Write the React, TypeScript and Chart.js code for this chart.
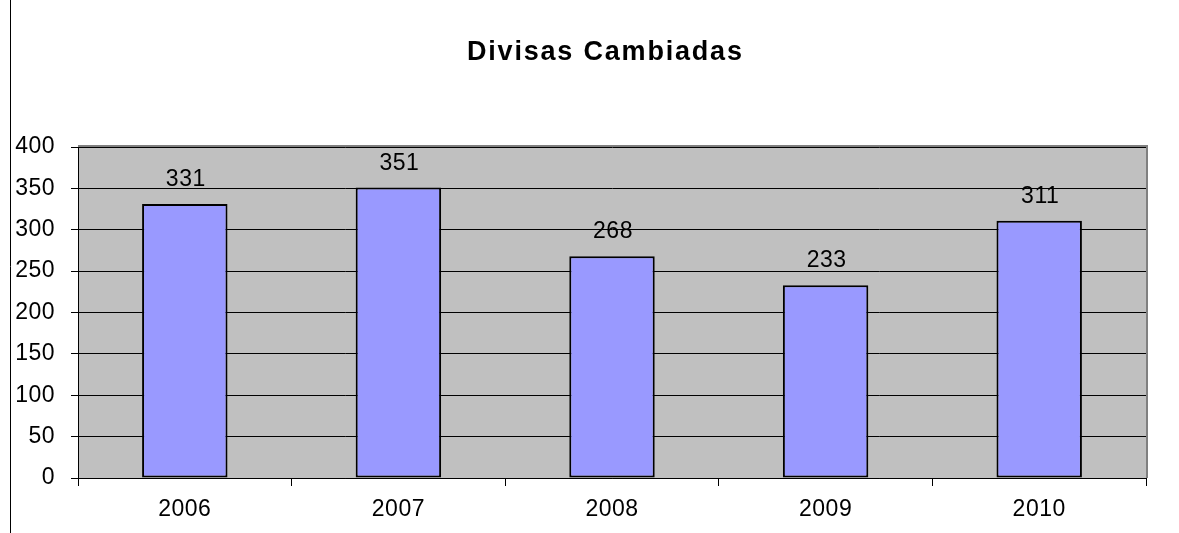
import React, { useEffect, useRef } from "react";
import { Chart, registerables } from "chart.js";

Chart.register(...registerables);

const TITLE = "Divisas Cambiadas";
const CATEGORIES = ["2006", "2007", "2008", "2009", "2010"];
const VALUES = [331, 351, 268, 233, 311];
const Y_MIN = 0;
const Y_MAX = 400;
const Y_STEP = 50;

const FONT = "'Liberation Sans', Arial, sans-serif";

function setSpacing(ctx: any, v: string) {
  try {
    ctx.letterSpacing = v;
  } catch (e) {}
}

const decorPlugin = {
  id: "decor",
  beforeDraw(chart: any) {
    const { ctx, chartArea } = chart;
    ctx.save();
    ctx.fillStyle = "#ffffff";
    ctx.fillRect(0, 0, chart.width, chart.height);
    ctx.fillStyle = "#c0c0c0";
    ctx.fillRect(chartArea.left, chartArea.top, chartArea.right - chartArea.left, chartArea.bottom - chartArea.top);
    ctx.restore();
    setSpacing(ctx, "0.5px");
  },
  afterDraw(chart: any) {
    const { ctx, chartArea } = chart;
    ctx.save();
    // left border line
    ctx.strokeStyle = "#000";
    ctx.lineWidth = 1;
    ctx.beginPath();
    ctx.moveTo(10.5, 0);
    ctx.lineTo(10.5, chart.height);
    ctx.stroke();
    // plot area gray top/right border
    ctx.strokeStyle = "#808080";
    ctx.lineWidth = 2;
    ctx.beginPath();
    ctx.moveTo(chartArea.left, chartArea.top - 1);
    ctx.lineTo(chartArea.right + 1, chartArea.top - 1);
    ctx.lineTo(chartArea.right + 1, chartArea.bottom);
    ctx.stroke();
    // title
    ctx.fillStyle = "#000";
    ctx.font = `bold 27px ${FONT}`;
    setSpacing(ctx, "1.8px");
    ctx.textAlign = "left";
    ctx.textBaseline = "alphabetic";
    ctx.fillText(TITLE, 467, 60);
    // data labels
    ctx.font = `23px ${FONT}`;
    setSpacing(ctx, "0.5px");
    ctx.textAlign = "center";
    const meta = chart.getDatasetMeta(0);
    meta.data.forEach((bar: any, i: number) => {
      ctx.fillText(String(VALUES[i]), bar.x + 1, bar.y - 18);
    });
    ctx.restore();
  },
};

export default function App() {
  const ref = useRef<HTMLCanvasElement | null>(null);
  useEffect(() => {
    if (!ref.current) return;
    const chart = new Chart(ref.current, {
      type: "bar",
      data: {
        labels: CATEGORIES,
        datasets: [
          {
            data: VALUES,
            backgroundColor: "#9999ff",
            borderColor: "#000",
            borderWidth: 2,
            borderSkipped: false,
            categoryPercentage: 1,
            barPercentage: 0.4,
          },
        ],
      },
      options: {
        responsive: false,
        animation: false,
        devicePixelRatio: 1,
        layout: { padding: { top: 147, right: 33, left: 0, bottom: 0 } },
        plugins: {
          legend: { display: false },
          title: { display: false },
          tooltip: { enabled: false },
        },
        scales: {
          x: {
            afterFit(scale: any) {
              scale.height = 55;
            },
            grid: {
              offset: true,
              drawOnChartArea: false,
              drawTicks: true,
              tickLength: 8,
              color: "#000",
            },
            border: { color: "#000", width: 1 },
            ticks: {
              color: "#000",
              font: { family: FONT, size: 23 },
              padding: 10,
            },
          },
          y: {
            min: Y_MIN,
            max: Y_MAX,
            afterFit(scale: any) {
              scale.width = 78;
            },
            grid: {
              color: "#000",
              lineWidth: 1,
              tickLength: 7,
            },
            border: { color: "#000", width: 1 },
            ticks: {
              stepSize: Y_STEP,
              color: "#000",
              font: { family: FONT, size: 23 },
              padding: 16,
            },
          },
        },
      },
      plugins: [decorPlugin],
    });
    return () => chart.destroy();
  }, []);
  return (
    <div style={{ position: "fixed", left: 0, top: 0, width: 1179, height: 533 }}>
      <canvas ref={ref} width={1179} height={533} style={{ display: "block" }} />
    </div>
  );
}
